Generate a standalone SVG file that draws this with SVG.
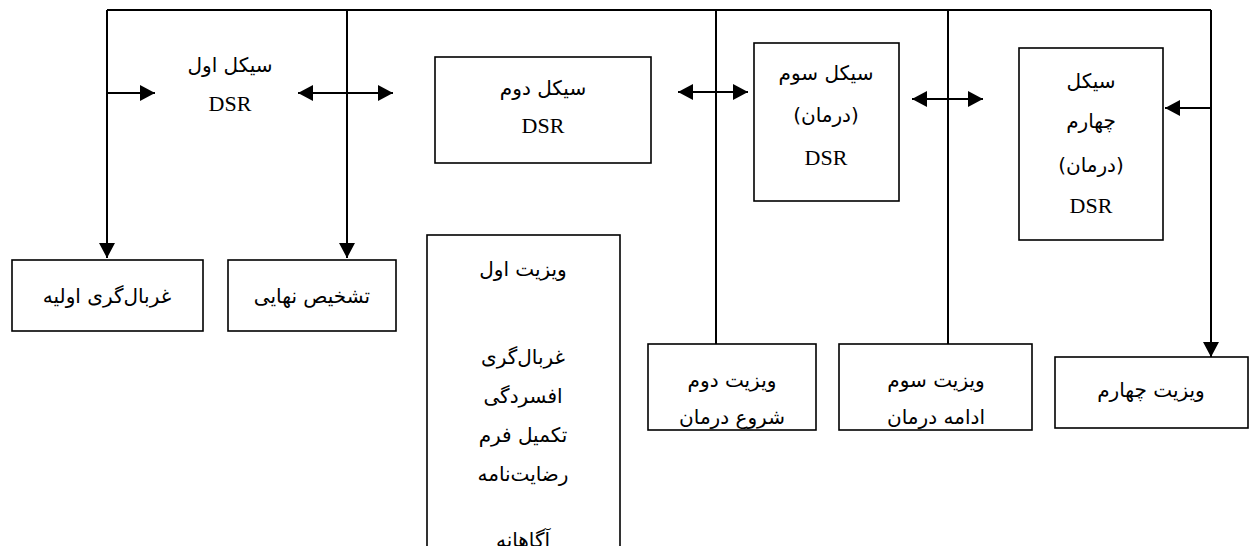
<svg xmlns="http://www.w3.org/2000/svg" width="1253" height="546" viewBox="0 0 1253 546">
<style>
.box{fill:#fff;stroke:#000;stroke-width:1.6}
.ln{fill:none;stroke:#000;stroke-width:2}
.t{font-family:'DejaVu Sans',sans-serif;font-size:20px;fill:#000;text-anchor:middle}
.l{font-family:'Liberation Serif',serif;font-size:22px;fill:#000;text-anchor:middle}
</style>
<defs>
<marker id="ah" markerUnits="userSpaceOnUse" markerWidth="16" markerHeight="16" refX="15" refY="8" orient="auto-start-reverse">
<path d="M0,0 L15,8 L0,16 z" fill="#000"/>
</marker>
</defs>
<rect width="1253" height="546" fill="#fff"/>
<g id="connectors">
<path class="ln" d="M107,10 H1211"/>
<path class="ln" d="M107,10 V258" marker-end="url(#ah)"/>
<path class="ln" d="M347,10 V258" marker-end="url(#ah)"/>
<path class="ln" d="M716,10 V344"/>
<path class="ln" d="M948,10 V344"/>
<path class="ln" d="M1211,10 V357" marker-end="url(#ah)"/>
<path class="ln" d="M107,93 H155" marker-end="url(#ah)"/>
<path class="ln" d="M298,93 H393" marker-start="url(#ah)" marker-end="url(#ah)"/>
<path class="ln" d="M678,92 H748" marker-start="url(#ah)" marker-end="url(#ah)"/>
<path class="ln" d="M912,99 H983" marker-start="url(#ah)" marker-end="url(#ah)"/>
<path class="ln" d="M1211,108 H1165" marker-end="url(#ah)"/>
</g>
<g id="cycle1">
<text class="t" x="230" y="72" direction="rtl">سیکل اول</text>
<text class="l" x="230" y="111">DSR</text>
</g>
<g id="cycle2">
<rect class="box" x="435" y="57" width="216" height="106"/>
<text class="t" x="543" y="95" direction="rtl">سیکل دوم</text>
<text class="l" x="543" y="133">DSR</text>
</g>
<g id="cycle3">
<rect class="box" x="754" y="43" width="145" height="158"/>
<text class="t" x="826" y="80" direction="rtl">سیکل سوم</text>
<text class="t" x="826" y="122" direction="rtl">(درمان)</text>
<text class="l" x="826" y="165">DSR</text>
</g>
<g id="cycle4">
<rect class="box" x="1019" y="48" width="144" height="192"/>
<text class="t" x="1091" y="88" direction="rtl">سیکل</text>
<text class="t" x="1091" y="128" direction="rtl">چهارم</text>
<text class="t" x="1091" y="172" direction="rtl">(درمان)</text>
<text class="l" x="1091" y="213">DSR</text>
</g>
<g id="screening">
<rect class="box" x="12" y="260" width="191" height="71"/>
<text class="t" x="107" y="303" direction="rtl">غربال‌گری اولیه</text>
</g>
<g id="diagnosis">
<rect class="box" x="228" y="260" width="168" height="71"/>
<text class="t" x="312" y="303" direction="rtl">تشخیص نهایی</text>
</g>
<g id="visit1">
<rect class="box" x="427" y="235" width="193" height="330"/>
<text class="t" x="523" y="276" direction="rtl">ویزیت اول</text>
<text class="t" x="523" y="364" direction="rtl">غربال‌گری</text>
<text class="t" x="523" y="403" direction="rtl">افسردگی</text>
<text class="t" x="523" y="442" direction="rtl">تکمیل فرم</text>
<text class="t" x="523" y="481" direction="rtl">رضایت‌نامه</text>
<text class="t" x="523" y="547" direction="rtl">آگاهانه</text>
</g>
<g id="visit2">
<rect class="box" x="648" y="344" width="168" height="86"/>
<text class="t" x="732" y="387" direction="rtl">ویزیت دوم</text>
<text class="t" x="732" y="424" direction="rtl">شروع درمان</text>
</g>
<g id="visit3">
<rect class="box" x="839" y="344" width="193" height="86"/>
<text class="t" x="936" y="387" direction="rtl">ویزیت سوم</text>
<text class="t" x="936" y="424" direction="rtl">ادامه درمان</text>
</g>
<g id="visit4">
<rect class="box" x="1055" y="357" width="193" height="71"/>
<text class="t" x="1151" y="397" direction="rtl">ویزیت چهارم</text>
</g>
</svg>
